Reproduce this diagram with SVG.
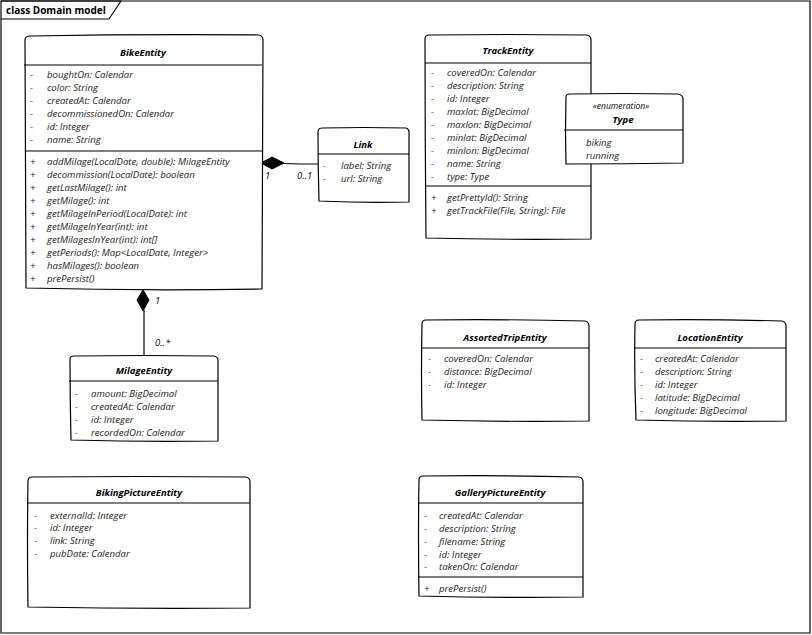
<svg xmlns="http://www.w3.org/2000/svg" width="812" height="635" viewBox="0 0 812 635">
<style>
.bx{fill:#fff;stroke:#000;stroke-width:1.2;stroke-linejoin:round}
.dv{stroke:#000;stroke-width:1.1;fill:none}
.t{font-family:"Open Sans","Noto Sans",sans-serif;font-size:9.6px;font-style:italic;fill:#1a1a1a}
.h{font-family:"Open Sans","Noto Sans",sans-serif;font-size:9.5px;font-style:italic;font-weight:bold;fill:#000;text-anchor:middle}
.st{font-family:"Open Sans","Noto Sans",sans-serif;font-size:8.5px;font-style:italic;fill:#000;text-anchor:middle}
.ln{stroke:#000;stroke-width:1.2;fill:none}
.lb{font-family:"Open Sans","Noto Sans",sans-serif;font-size:9.5px;font-style:italic;fill:#000}
</style>
<rect x="0" y="0" width="812" height="635" fill="#fff"/>
<g id="frame">
<path d="M1,1 L810,1 L810,633 L1,633 Z" fill="none" stroke="#000" stroke-width="1.2"/>
<path d="M1,1 L121,1 L109,19 L1,19" fill="none" stroke="#000" stroke-width="1.1"/>
<text x="6" y="14" font-family="'Open Sans','Noto Sans',sans-serif" font-size="10px" font-weight="bold" fill="#000">class Domain model</text>
</g>
<g id="connectors">
<path class="ln" d="M283,163.5 Q300,164 318,164"/>
<path d="M261,163 L272,157 L284,163 L272,169 Z" fill="#000" stroke="#000"/>
<text class="lb" x="265" y="179">1</text>
<text class="lb" x="297" y="179">0..1</text>
<path class="ln" d="M144,310 Q144,333 144,356"/>
<path d="M143,290 L149,300 L143,311 L137,300 Z" fill="#000" stroke="#000"/>
<text class="lb" x="155" y="304">1</text>
<text class="lb" x="155" y="346">0..*</text>
</g>
<g id="BikeEntity">
<path class="bx" d="M25,40 Q25,36 30,36 Q145,34 259,35 Q263,36 263,40 Q262,165 262,289 Q145,291 26,288 Q25,165 25,40 Z"/>
<text class="h" x="143" y="56">BikeEntity</text>
<line class="dv" x1="24" y1="65" x2="262" y2="65"/>
<g class="t">
<text x="30" y="78">-</text><text x="47" y="78">boughtOn: Calendar</text>
<text x="30" y="91">-</text><text x="47" y="91">color: String</text>
<text x="30" y="104">-</text><text x="47" y="104">createdAt: Calendar</text>
<text x="30" y="117">-</text><text x="47" y="117">decommissionedOn: Calendar</text>
<text x="30" y="130">-</text><text x="47" y="130">id: Integer</text>
<text x="30" y="143">-</text><text x="47" y="143">name: String</text>
</g>
<line class="dv" x1="25" y1="151" x2="262" y2="151"/>
<g class="t">
<text x="30" y="165">+</text><text x="47" y="165">addMilage(LocalDate, double): MilageEntity</text>
<text x="30" y="178">+</text><text x="47" y="178">decommission(LocalDate): boolean</text>
<text x="30" y="191">+</text><text x="47" y="191">getLastMilage(): int</text>
<text x="30" y="204">+</text><text x="47" y="204">getMilage(): int</text>
<text x="30" y="217">+</text><text x="47" y="217">getMilageInPeriod(LocalDate): int</text>
<text x="30" y="230">+</text><text x="47" y="230">getMilageInYear(int): int</text>
<text x="30" y="243">+</text><text x="47" y="243">getMilagesInYear(int): int[]</text>
<text x="30" y="256">+</text><text x="47" y="256">getPeriods(): Map&lt;LocalDate, Integer&gt;</text>
<text x="30" y="269">+</text><text x="47" y="269">hasMilages(): boolean</text>
<text x="30" y="282">+</text><text x="47" y="282">prePersist()</text>
</g>
</g>
<g id="Link">
<path class="bx" d="M318,132 Q318,128 322,128 Q364,127 406,128 Q409,129 409,132 Q409,167 409,202 Q364,203 319,201 Q318,167 318,132 Z"/>
<text class="h" x="363" y="148">Link</text>
<line class="dv" x1="318" y1="154" x2="409" y2="154"/>
<g class="t">
<text x="323" y="169">-</text><text x="341" y="169">label: String</text>
<text x="323" y="182">-</text><text x="341" y="182">url: String</text>
</g>
</g>
<g id="TrackEntity">
<path class="bx" d="M425,39 Q425,35 429,35 Q508,34 587,35 Q591,36 591,40 Q591,139 591,239 Q508,240 426,238 Q425,139 425,39 Z"/>
<text class="h" x="508" y="54">TrackEntity</text>
<line class="dv" x1="425" y1="63" x2="591" y2="63"/>
<g class="t">
<text x="431" y="76">-</text><text x="447" y="76">coveredOn: Calendar</text>
<text x="431" y="89">-</text><text x="447" y="89">description: String</text>
<text x="431" y="102">-</text><text x="447" y="102">id: Integer</text>
<text x="431" y="115">-</text><text x="447" y="115">maxlat: BigDecimal</text>
<text x="431" y="128">-</text><text x="447" y="128">maxlon: BigDecimal</text>
<text x="431" y="141">-</text><text x="447" y="141">minlat: BigDecimal</text>
<text x="431" y="154">-</text><text x="447" y="154">minlon: BigDecimal</text>
<text x="431" y="167">-</text><text x="447" y="167">name: String</text>
<text x="431" y="180">-</text><text x="447" y="180">type: Type</text>
</g>
<line class="dv" x1="425" y1="186" x2="591" y2="186"/>
<g class="t">
<text x="431" y="201">+</text><text x="447" y="201">getPrettyId(): String</text>
<text x="431" y="214">+</text><text x="447" y="214">getTrackFile(File, String): File</text>
</g>
</g>
<g id="Type">
<path class="bx" d="M566,97 Q566,94 570,94 Q624,93 678,94 Q683,95 683,99 Q683,131 683,163 Q624,164 566,164 Q565,131 566,97 Z"/>
<text class="st" x="621" y="109">«enumeration»</text>
<text class="h" x="623" y="123">Type</text>
<line class="dv" x1="564" y1="130" x2="683" y2="130"/>
<g class="t">
<text x="586" y="146">biking</text>
<text x="586" y="159">running</text>
</g>
</g>
<g id="MilageEntity">
<path class="bx" d="M70,359 Q70,356 74,356 Q143,355 214,356 Q218,357 218,360 Q218,400 218,441 Q143,442 71,440 Q70,400 70,359 Z"/>
<text class="h" x="144" y="374">MilageEntity</text>
<line class="dv" x1="69" y1="381" x2="218" y2="381"/>
<g class="t">
<text x="75" y="397">-</text><text x="91" y="397">amount: BigDecimal</text>
<text x="75" y="410">-</text><text x="91" y="410">createdAt: Calendar</text>
<text x="75" y="423">-</text><text x="91" y="423">id: Integer</text>
<text x="75" y="436">-</text><text x="91" y="436">recordedOn: Calendar</text>
</g>
</g>
<g id="AssortedTripEntity">
<path class="bx" d="M422,324 Q422,320 426,320 Q505,319 585,321 Q589,322 589,326 Q589,373 589,421 Q505,422 422,420 Q421,372 422,324 Z"/>
<text class="h" x="505" y="341">AssortedTripEntity</text>
<line class="dv" x1="421" y1="348" x2="589" y2="348"/>
<g class="t">
<text x="428" y="362">-</text><text x="444" y="362">coveredOn: Calendar</text>
<text x="428" y="375">-</text><text x="444" y="375">distance: BigDecimal</text>
<text x="428" y="388">-</text><text x="444" y="388">id: Integer</text>
</g>
</g>
<g id="LocationEntity">
<path class="bx" d="M635,324 Q635,320 639,320 Q710,319 782,321 Q786,322 786,326 Q786,373 786,421 Q710,422 636,420 Q634,372 635,324 Z"/>
<text class="h" x="710" y="341">LocationEntity</text>
<line class="dv" x1="634" y1="348" x2="786" y2="348"/>
<g class="t">
<text x="640" y="362">-</text><text x="655" y="362">createdAt: Calendar</text>
<text x="640" y="375">-</text><text x="655" y="375">description: String</text>
<text x="640" y="388">-</text><text x="655" y="388">id: Integer</text>
<text x="640" y="401">-</text><text x="655" y="401">latitude: BigDecimal</text>
<text x="640" y="414">-</text><text x="655" y="414">longitude: BigDecimal</text>
</g>
</g>
<g id="BikingPictureEntity">
<path class="bx" d="M28,481 Q28,477 32,477 Q139,476 246,477 Q250,478 250,482 Q250,544 250,608 Q139,609 28,607 Q27,544 28,481 Z"/>
<text class="h" x="139" y="496">BikingPictureEntity</text>
<line class="dv" x1="27" y1="503" x2="250" y2="503"/>
<g class="t">
<text x="34" y="519">-</text><text x="50" y="519">externalId: Integer</text>
<text x="34" y="531">-</text><text x="50" y="531">id: Integer</text>
<text x="34" y="544">-</text><text x="50" y="544">link: String</text>
<text x="34" y="557">-</text><text x="50" y="557">pubDate: Calendar</text>
</g>
</g>
<g id="GalleryPictureEntity">
<path class="bx" d="M419,480 Q419,476 423,476 Q500,475 579,477 Q583,478 583,482 Q583,539 583,597 Q500,598 419,596 Q418,539 419,480 Z"/>
<text class="h" x="500" y="496">GalleryPictureEntity</text>
<line class="dv" x1="418" y1="503" x2="583" y2="503"/>
<g class="t">
<text x="424" y="519">-</text><text x="439" y="519">createdAt: Calendar</text>
<text x="424" y="532">-</text><text x="439" y="532">description: String</text>
<text x="424" y="545">-</text><text x="439" y="545">filename: String</text>
<text x="424" y="558">-</text><text x="439" y="558">id: Integer</text>
<text x="424" y="570">-</text><text x="439" y="570">takenOn: Calendar</text>
</g>
<line class="dv" x1="418" y1="577" x2="583" y2="577"/>
<g class="t">
<text x="424" y="592">+</text><text x="439" y="592">prePersist()</text>
</g>
</g>
</svg>
